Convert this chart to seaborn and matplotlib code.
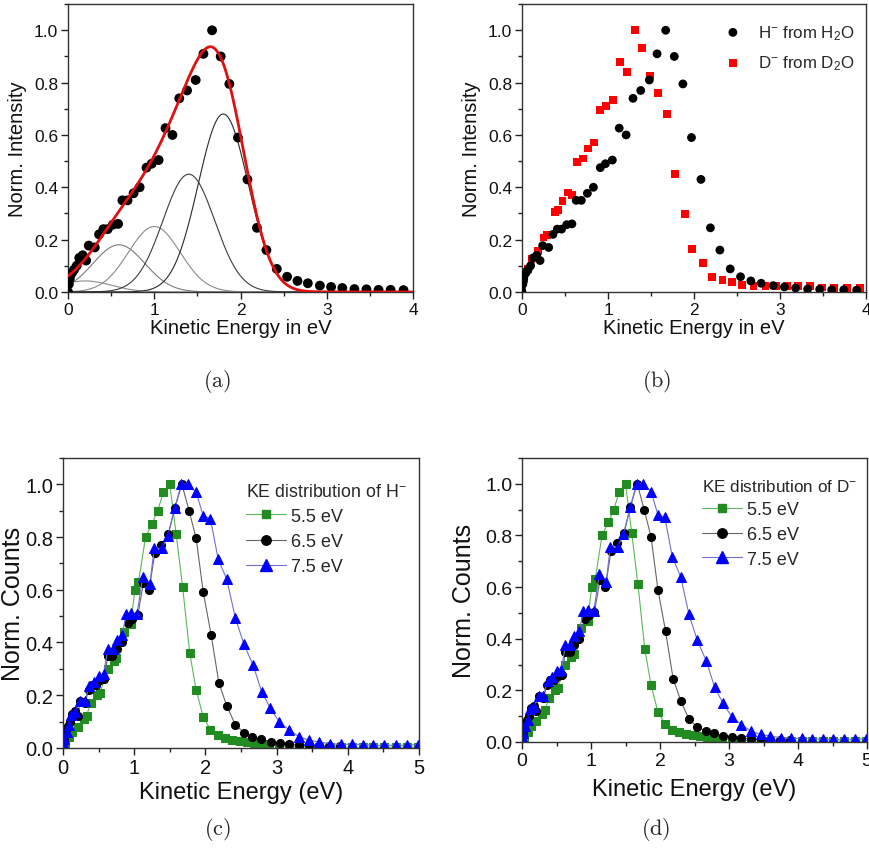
import numpy as np
import pandas as pd
import matplotlib
matplotlib.use("Agg")
import matplotlib.pyplot as plt
from matplotlib.ticker import MultipleLocator
from matplotlib.lines import Line2D
import seaborn as sns

# H- from H2O (black circles, panels a/b, 6.5 eV in c/d)
h_x = [0.00, 0.01, 0.02, 0.03, 0.05, 0.07, 0.10, 0.13, 0.17, 0.21, 0.24, 0.31, 0.36, 0.41,
       0.46, 0.52, 0.58, 0.63, 0.69, 0.76, 0.83, 0.91, 0.97, 1.05, 1.13, 1.21, 1.29, 1.38,
       1.48, 1.57, 1.67, 1.77, 1.87, 1.97, 2.08, 2.19, 2.30, 2.42, 2.54, 2.66, 2.78, 2.92,
       3.05, 3.18, 3.32, 3.46, 3.60, 3.74, 3.89]
h_y = [0.00, 0.03, 0.05, 0.065, 0.075, 0.085, 0.10, 0.13, 0.14, 0.12, 0.177, 0.17, 0.22, 0.24,
       0.24, 0.257, 0.26, 0.35, 0.35, 0.377, 0.40, 0.475, 0.49, 0.504, 0.626, 0.60, 0.74, 0.77,
       0.81, 0.91, 1.0, 0.90, 0.795, 0.59, 0.43, 0.245, 0.16, 0.088, 0.058, 0.042, 0.033, 0.024,
       0.019, 0.015, 0.011, 0.010, 0.008, 0.008, 0.007]

# D- from D2O (red squares, panel b)
d_x = [0.00, 0.02, 0.035, 0.07, 0.11, 0.19, 0.25, 0.29, 0.38, 0.42, 0.47, 0.53, 0.58, 0.64,
       0.71, 0.77, 0.84, 0.91, 0.98, 1.06, 1.14, 1.22, 1.31, 1.39, 1.49, 1.58, 1.69, 1.78,
       1.89, 1.98, 2.10, 2.21, 2.33, 2.44, 2.56, 2.69, 2.83, 2.95, 3.08, 3.21, 3.35, 3.49,
       3.63, 3.78, 3.93]
d_y = [0.01, 0.05, 0.075, 0.088, 0.126, 0.158, 0.208, 0.217, 0.306, 0.314, 0.348, 0.38, 0.37,
       0.498, 0.51, 0.548, 0.571, 0.694, 0.71, 0.733, 0.878, 0.84, 1.0, 0.933, 0.827, 0.761,
       0.679, 0.45, 0.297, 0.164, 0.109, 0.058, 0.046, 0.037, 0.028, 0.024, 0.024, 0.024,
       0.024, 0.021, 0.021, 0.017, 0.016, 0.016, 0.014]

# gaussian components of the fit in panel (a)
g_amp = [0.042, 0.18, 0.25, 0.45, 0.68]
g_cen = [0.20, 0.59, 1.00, 1.40, 1.80]
g_sig = [0.30, 0.30, 0.30, 0.30, 0.29]
g_col = ["#8c8c8c", "#7a7a7a", "#8a8a8a", "#3c3c3c", "#2a2a2a"]

# 5.5 eV (green squares, panels c/d)
e55_x = [0.03, 0.08, 0.13, 0.21, 0.29, 0.33, 0.39, 0.48, 0.52, 0.63, 0.71, 0.75, 0.85, 0.95,
         1.01, 1.06, 1.16, 1.25, 1.33, 1.41, 1.50, 1.59, 1.68, 1.78, 1.87, 1.97, 2.07, 2.17,
         2.28, 2.38, 2.48, 2.58, 2.68, 2.79, 2.90, 3.04, 3.18, 3.32, 3.46, 3.60, 3.75, 3.90,
         4.06, 4.21, 4.36, 4.51, 4.67, 4.83, 4.98]
e55_y = [0.016, 0.04, 0.06, 0.08, 0.11, 0.123, 0.17, 0.20, 0.21, 0.30, 0.33, 0.34, 0.44, 0.47,
         0.60, 0.63, 0.80, 0.85, 0.90, 0.97, 1.0, 0.81, 0.61, 0.36, 0.22, 0.117, 0.07, 0.048,
         0.038, 0.031, 0.028, 0.023, 0.019, 0.015, 0.01, 0.008, 0.006, 0.005, 0.005, 0.004,
         0.004, 0.004, 0.003, 0.003, 0.003, 0.003, 0.003, 0.003, 0.003]

# 7.5 eV (blue triangles, panels c/d)
e75_x = [0.01, 0.02, 0.05, 0.08, 0.11, 0.17, 0.24, 0.31, 0.37, 0.43, 0.50, 0.57, 0.63, 0.70,
         0.76, 0.83, 0.89, 0.96, 1.04, 1.12, 1.22, 1.28, 1.39, 1.47, 1.57, 1.66, 1.76, 1.87,
         1.97, 2.07, 2.18, 2.30, 2.42, 2.54, 2.67, 2.79, 2.91, 3.04, 3.18, 3.32, 3.46, 3.60,
         3.75, 3.90, 4.06, 4.21, 4.36, 4.51, 4.67, 4.83, 4.98]
e75_y = [0.01, 0.035, 0.06, 0.086, 0.126, 0.136, 0.18, 0.18, 0.236, 0.25, 0.274, 0.28, 0.375,
         0.375, 0.41, 0.43, 0.507, 0.51, 0.507, 0.65, 0.62, 0.757, 0.757, 0.805, 0.91, 1.0, 1.0,
         0.97, 0.88, 0.87, 0.715, 0.64, 0.494, 0.394, 0.314, 0.214, 0.151, 0.098, 0.067, 0.042,
         0.029, 0.023, 0.016, 0.014, 0.014, 0.013, 0.01, 0.01, 0.01, 0.01, 0.013]

sns.set_style("ticks")
plt.rcParams["font.family"] = ["Liberation Sans", "DejaVu Sans"]
plt.rcParams["mathtext.fontset"] = "custom"
plt.rcParams["mathtext.rm"] = "Liberation Sans"
plt.rcParams["mathtext.it"] = "Liberation Sans"
plt.rcParams["axes.linewidth"] = 1.0

fig = plt.figure(figsize=(8.69, 8.54), dpi=100)
ax_a = fig.add_axes([0.0783, 0.657, 0.397, 0.337])
ax_b = fig.add_axes([0.6007, 0.657, 0.396, 0.337])
ax_c = fig.add_axes([0.0725, 0.123, 0.4097, 0.3396])
ax_d = fig.add_axes([0.6007, 0.130, 0.397, 0.3326])


def style_axes(ax, xmax, tick_fs, xlabel_fs, ylabel_fs, xlabel, ylabel, ylab_x, xpad):
    ax.set_xlim(0, xmax)
    ax.set_ylim(0, 1.1)
    ax.xaxis.set_major_locator(MultipleLocator(1))
    ax.xaxis.set_minor_locator(MultipleLocator(0.5))
    ax.set_yticks([0, 0.2, 0.4, 0.6, 0.8, 1.0])
    ax.set_yticklabels(["0.0", "0.2", "0.4", "0.6", "0.8", "1.0"])
    ax.yaxis.set_minor_locator(MultipleLocator(0.1))
    ax.tick_params(which="major", direction="out", length=5, width=1, labelsize=tick_fs,
                   bottom=True, left=True, top=False, right=False, pad=2,
                   color="#222222", labelcolor="#111111")
    ax.tick_params(which="minor", direction="out", length=3, width=1, bottom=True, left=True,
                   top=False, right=False, color="#222222")
    ax.set_xlabel(xlabel, fontsize=xlabel_fs, labelpad=xpad, color="#111111")
    ax.set_ylabel(ylabel, fontsize=ylabel_fs, color="#111111")
    ax.yaxis.set_label_coords(ylab_x, 0.5)
    for s in ax.spines.values():
        s.set_visible(True)
        s.set_color("#333333")
        s.set_linewidth(1.0)


# (a) data with gaussian fit
xs = np.linspace(0, 4, 400)
total = np.zeros_like(xs)
for a, c, s, col in zip(g_amp, g_cen, g_sig, g_col):
    comp = a * np.exp(-(xs - c) ** 2 / (2 * s ** 2))
    total += comp
    sns.lineplot(x=xs, y=comp, ax=ax_a, color=col, lw=0.8)
sns.scatterplot(x=h_x, y=h_y, ax=ax_a, color="black", s=50, edgecolor="none", zorder=3)
sns.lineplot(x=xs, y=total, ax=ax_a, color="#e01010", lw=2, zorder=4)
style_axes(ax_a, 4, 12.5, 14.5, 14.5, "Kinetic Energy in eV", "Norm. Intensity", -0.119, 1)

# (b) H- vs D-
sns.scatterplot(x=h_x, y=h_y, ax=ax_b, color="black", marker="o", s=40, edgecolor="none",
                label=r"H$^{-}$ from H$_2$O", zorder=3)
sns.scatterplot(x=d_x, y=d_y, ax=ax_b, color="#ff0000", marker="s", s=32, edgecolor="none",
                label=r"D$^{-}$ from D$_2$O", zorder=2)
style_axes(ax_b, 4, 12.5, 14.5, 14.5, "Kinetic Energy in eV", "Norm. Intensity", -0.119, 1)
ax_b.legend(loc="upper left", frameon=False, fontsize=12.2, labelspacing=0.72,
            handletextpad=0.95, handlelength=1.05, borderpad=0, borderaxespad=0,
            bbox_to_anchor=(0.587, 0.935), markerscale=1.0)

# (c) and (d) photon-energy dependence
series = [
    (e55_x, e55_y, "s", 5.2, "#228b22", "#5cb85c", "5.5 eV"),
    (h_x, h_y, "o", 5.8, "black", "#666666", "6.5 eV"),
    (e75_x, e75_y, "^", 7.0, "#0000ff", "#7070d0", "7.5 eV"),
]
panel_cfg = [
    (ax_c, "H", 14.5, -0.107, 3, (0.514, 0.915), 12.8, 13, 0.45),
    (ax_d, "D", 14, -0.133, 7, (0.522, 0.93), 12.3, 13, 0.42),
]
for ax, ion, tfs, ylx, xpad, anchor, title_fs, lab_fs, lsp in panel_cfg:
    handles = []
    for sx, sy, mk, ms, mc, lc, lab in series:
        sns.lineplot(x=sx, y=sy, ax=ax, color=lc, lw=0.8, marker=mk, markersize=ms,
                     markerfacecolor=mc, markeredgecolor=mc, sort=False)
        handles.append(Line2D([], [], color=lc, lw=0.8, marker=mk, markersize=ms + 1,
                              markerfacecolor=mc, markeredgecolor=mc, label=lab))
    style_axes(ax, 5, tfs, 17, 18, "Kinetic Energy (eV)", "Norm. Counts", ylx, xpad)
    ax.legend(handles=handles, title="KE distribution of " + ion + r"$^{-}$",
              loc="upper left", frameon=False, fontsize=lab_fs, title_fontsize=title_fs,
              alignment="left", handlelength=2.2, handletextpad=0.3, labelspacing=lsp,
              borderpad=0, borderaxespad=0, bbox_to_anchor=anchor)

# subfigure captions
for txt, x, y in [("(a)", 0.250, 0.553), ("(b)", 0.756, 0.553),
                  ("(c)", 0.250, 0.029), ("(d)", 0.755, 0.029)]:
    fig.text(x, y, r"$\mathrm{" + txt + "}$", fontsize=16, ha="center", va="center",
             math_fontfamily="cm")

fig.savefig("out.png", dpi=100)
